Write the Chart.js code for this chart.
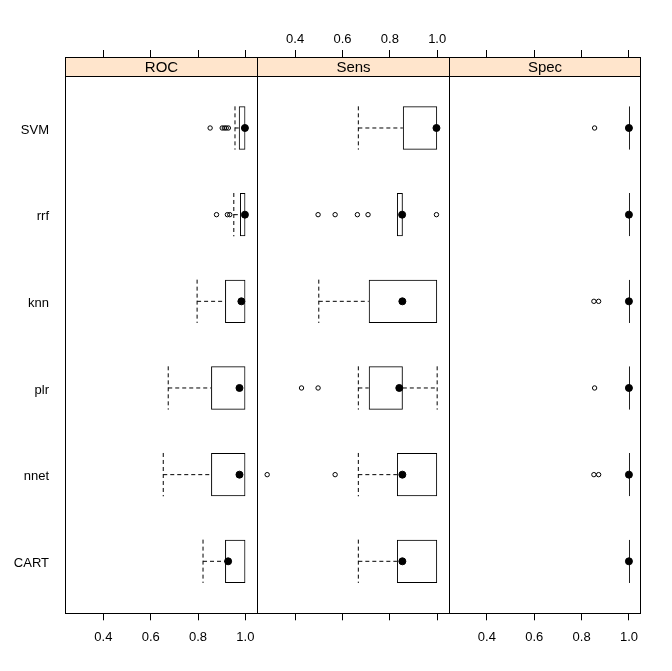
<!DOCTYPE html>
<html><head><meta charset="utf-8">
<script src="https://cdn.jsdelivr.net/npm/chart.js@4.4.1/dist/chart.umd.min.js"></script>
<style>html,body{margin:0;padding:0;background:#fff;}canvas{display:block;}</style>
</head><body>
<canvas id="c" width="672" height="671"></canvas>
<script>
// ---- data ----
const models = ['CART', 'nnet', 'plr', 'knn', 'rrf', 'SVM'];
const metrics = ['ROC', 'Sens', 'Spec'];
// each row: [lower whisker, Q1, median, Q3, upper whisker], order = models
const rocStats = [
  [0.821, 0.914, 0.927, 1.0, 1.0],
  [0.653, 0.855, 0.975, 1.0, 1.0],
  [0.674, 0.855, 0.975, 1.0, 1.0],
  [0.796, 0.914, 0.983, 1.0, 1.0],
  [0.951, 0.977, 0.998, 1.0, 1.0],
  [0.956, 0.972, 0.998, 1.0, 1.0]
];
const sensStats = [
  [0.667, 0.830, 0.853, 1.0, 1.0],
  [0.667, 0.830, 0.853, 1.0, 1.0],
  [0.667, 0.711, 0.840, 0.855, 1.0],
  [0.500, 0.711, 0.853, 1.0, 1.0],
  [0.830, 0.830, 0.852, 0.855, 0.855],
  [0.667, 0.855, 0.997, 1.0, 1.0]
];
const specStats = [
  [1.0, 1.0, 1.0, 1.0, 1.0],
  [1.0, 1.0, 1.0, 1.0, 1.0],
  [1.0, 1.0, 1.0, 1.0, 1.0],
  [1.0, 1.0, 1.0, 1.0, 1.0],
  [1.0, 1.0, 1.0, 1.0, 1.0],
  [1.0, 1.0, 1.0, 1.0, 1.0]
];
const rocOutliers = [[], [], [], [], [0.878, 0.924, 0.934], [0.851, 0.902, 0.911, 0.919, 0.928]];
const sensOutliers = [[], [0.282, 0.569], [0.427, 0.497], [], [0.497, 0.569, 0.663, 0.708, 0.997], []];
const specOutliers = [[], [0.852, 0.872], [0.855], [0.852, 0.872], [], [0.855]];
const tickValues = [0.4, 0.6, 0.8, 1.0];
const tickLabels = ['0.4', '0.6', '0.8', '1.0'];
const xLimits = [0.238, 1.048];

// ---- helpers ----
const allStats = [rocStats, sensStats, specStats];
const allOutliers = [rocOutliers, sensOutliers, specOutliers];
const panelW = xLimits[1] - xLimits[0];
const toX = (p, v) => p * panelW + (v - xLimits[0]);
const yTop = models.length + 0.6;           // top of the panels (factor axis)
const stripUnits = 19 / 86.66;              // strip height in y units
const FONT = '"Liberation Sans", Arial, sans-serif';

const boxData = [], medData = [], outData = [];
allStats.forEach((stats, p) => {
  stats.forEach((s, i) => {
    boxData.push({ x: [toX(p, s[1]), toX(p, s[3])], y: i + 1 });
    medData.push({ x: toX(p, s[2]), y: i + 1 });
  });
});
allOutliers.forEach((outs, p) => {
  outs.forEach((arr, i) => arr.forEach(v => outData.push({ x: toX(p, v), y: i + 1 })));
});

const bottomTicks = [], bottomLabels = [], topLabels = [];
for (let p = 0; p < 3; p++) {
  tickValues.forEach((v, k) => {
    bottomTicks.push(toX(p, v));
    bottomLabels.push(p === 1 ? '' : tickLabels[k]);
    topLabels.push(p === 1 ? tickLabels[k] : '');
  });
}

const panelPlugin = {
  id: 'panels',
  afterDatasetsDraw(chart) {
    const ctx = chart.ctx, xs = chart.scales.x, ys = chart.scales.y;
    const meta = chart.getDatasetMeta(0);
    ctx.save();
    ctx.strokeStyle = '#000';
    ctx.lineWidth = 1;
    ctx.setLineDash([4, 3]);
    allStats.forEach((stats, p) => {
      stats.forEach((s, i) => {
        const bar = meta.data[p * models.length + i];
        const h = bar.height / 2;
        const yc = ys.getPixelForValue(i + 1);
        const lo = xs.getPixelForValue(toX(p, s[0]));
        const q1 = xs.getPixelForValue(toX(p, s[1]));
        const q3 = xs.getPixelForValue(toX(p, s[3]));
        const hi = xs.getPixelForValue(toX(p, s[4]));
        ctx.beginPath();
        if (s[0] < s[1]) {
          ctx.moveTo(lo, yc); ctx.lineTo(q1, yc);
          ctx.moveTo(lo, yc - h); ctx.lineTo(lo, yc + h);
        }
        if (s[4] > s[3]) {
          ctx.moveTo(q3, yc); ctx.lineTo(hi, yc);
          ctx.moveTo(hi, yc - h); ctx.lineTo(hi, yc + h);
        }
        ctx.stroke();
      });
    });
    ctx.restore();
  },
  afterDraw(chart) {
    const ctx = chart.ctx, xs = chart.scales.x, ys = chart.scales.y;
    const area = chart.chartArea;
    const stripBottom = Math.round(ys.getPixelForValue(yTop)) + 0.5;
    const top = Math.round(area.top) + 0.5;
    const bottom = Math.round(area.bottom) + 0.5;
    ctx.save();
    ctx.lineWidth = 1;
    ctx.strokeStyle = '#000';
    metrics.forEach((m, p) => {
      const l = Math.round(xs.getPixelForValue(p * panelW)) + 0.5;
      const r = Math.round(xs.getPixelForValue((p + 1) * panelW)) + 0.5;
      ctx.fillStyle = '#FFE5CC';
      ctx.fillRect(l, top, r - l, stripBottom - top);
      ctx.strokeRect(l, top, r - l, stripBottom - top);
      ctx.strokeRect(l, stripBottom, r - l, bottom - stripBottom);
      ctx.fillStyle = '#000';
      ctx.font = '15px ' + FONT;
      ctx.textAlign = 'center';
      ctx.textBaseline = 'middle';
      ctx.fillText(m, (l + r) / 2, (top + stripBottom) / 2 + 0.5);
    });
    ctx.restore();
  }
};

const xAxisCommon = {
  type: 'linear',
  min: 0,
  max: 3 * panelW,
  offset: false,
  grid: { drawOnChartArea: false, drawTicks: true, tickLength: 7, color: '#000', offset: false },
  border: { display: false },
  afterBuildTicks(scale) { scale.ticks = bottomTicks.map(v => ({ value: v })); }
};

new Chart(document.getElementById('c'), {
  type: 'bar',
  data: {
    datasets: [
      {
        type: 'bar', indexAxis: 'y', data: boxData,
        xAxisID: 'x', yAxisID: 'y',
        backgroundColor: 'rgba(0,0,0,0)', borderColor: '#000', borderWidth: 1,
        borderSkipped: false, barPercentage: 0.5, categoryPercentage: 1, minBarLength: 1
      },
      {
        type: 'scatter', data: medData, xAxisID: 'x', yAxisID: 'y',
        pointStyle: 'circle', pointRadius: 3.5, pointBackgroundColor: '#000',
        pointBorderColor: '#000', pointBorderWidth: 1
      },
      {
        type: 'scatter', data: outData, xAxisID: 'x', yAxisID: 'y',
        pointStyle: 'circle', pointRadius: 2.2, pointBackgroundColor: 'rgba(0,0,0,0)',
        pointBorderColor: '#000', pointBorderWidth: 1
      }
    ]
  },
  options: {
    responsive: false,
    animation: false,
    events: [],
    layout: { padding: { left: 0, right: 31.7, top: 0, bottom: 0 } },
    plugins: { legend: { display: false }, tooltip: { enabled: false } },
    scales: {
      x: Object.assign({}, xAxisCommon, {
        position: 'bottom',
        ticks: {
          autoSkip: false, maxRotation: 0, minRotation: 0, padding: 9, color: '#000',
          font: { family: FONT, size: 13 },
          callback: (v, i) => bottomLabels[i]
        },
        afterFit(scale) { scale.height = 57.7; }
      }),
      x2: Object.assign({}, xAxisCommon, {
        position: 'top',
        ticks: {
          autoSkip: false, maxRotation: 0, minRotation: 0, padding: 3, color: '#000',
          font: { family: FONT, size: 13 },
          callback: (v, i) => topLabels[i]
        },
        afterFit(scale) { scale.height = 57; }
      }),
      y: {
        type: 'linear',
        position: 'left',
        min: 0.4,
        max: yTop + stripUnits,
        offset: false,
        grid: { display: false, offset: false },
        border: { display: false },
        afterBuildTicks(scale) { scale.ticks = models.map((m, i) => ({ value: i + 1 })); },
        ticks: {
          autoSkip: false, padding: 8, color: '#000', labelOffset: 2,
          font: { family: FONT, size: 13 },
          callback: (v) => models[Math.round(v) - 1] || ''
        },
        afterFit(scale) { scale.width = 65; }
      }
    }
  },
  plugins: [panelPlugin]
});
</script>
</body></html>
